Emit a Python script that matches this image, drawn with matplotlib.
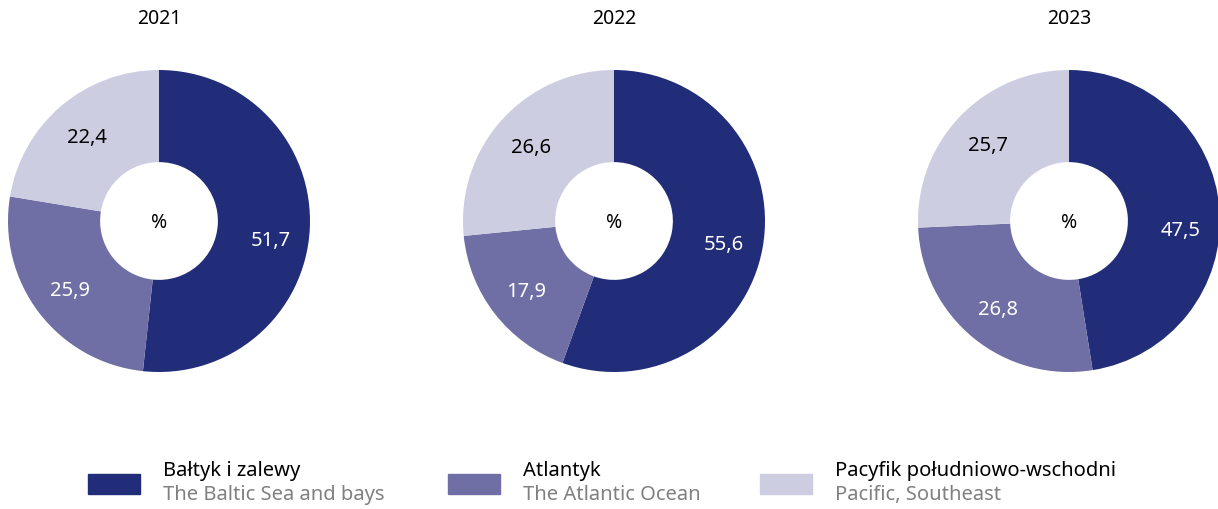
import numpy as np
import matplotlib.pyplot as plt
from matplotlib.patches import Rectangle

plt.rcParams['font.family'] = ['Noto Sans', 'DejaVu Sans']

years = ['2021', '2022', '2023']
baltic = [51.7, 55.6, 47.5]
atlantic = [25.9, 17.9, 26.8]
pacific = [22.4, 26.6, 25.7]
names_pl = ['Bałtyk i zalewy', 'Atlantyk', 'Pacyfik południowo-wschodni']
names_en = ['The Baltic Sea and bays', 'The Atlantic Ocean', 'Pacific, Southeast']
colors = ['#212D78', '#6F6FA6', '#CDCDE2']
label_colors = ['white', 'white', 'black']

W, H = 1218, 509
fig = plt.figure(figsize=(W / 100, H / 100), dpi=100)

centers_x = [159, 614, 1069]
cy = 221
r = 151
# small downward nudge (px) for the big dark slice label, as in the source layout
dark_nudge = [12, 2, 16]

for i, year in enumerate(years):
    cx = centers_x[i]
    ax = fig.add_axes([(cx - r) / W, (H - cy - r) / H, 2 * r / W, 2 * r / H])
    vals = [baltic[i], atlantic[i], pacific[i]]
    wedges, _ = ax.pie(vals, colors=colors, startangle=90, counterclock=False,
                       radius=1, wedgeprops=dict(width=0.61, linewidth=0))
    # value labels
    for k, (w, v, lc) in enumerate(zip(wedges, vals, label_colors)):
        ang = np.deg2rad((w.theta1 + w.theta2) / 2)
        x = 0.74 * np.cos(ang)
        y = 0.74 * np.sin(ang)
        if k == 0:
            y -= dark_nudge[i] / r
        ax.text(x, y, f'{v:.1f}'.replace('.', ','),
                ha='center', va='center_baseline', fontsize=14.5, color=lc)
    ax.text(0, 0, '%', ha='center', va='center_baseline', fontsize=14)
    ax.set_xlim(-1, 1)
    ax.set_ylim(-1, 1)
    ax.set_aspect('equal')
    ax.axis('off')
    fig.text(cx / W, 1 - 19 / H, year, ha='center', va='center', fontsize=14)

# legend
leg_x = [88, 448, 760]
for x, c, pl, en in zip(leg_x, colors, names_pl, names_en):
    fig.patches.append(Rectangle((x / W, 1 - 494 / H), 52 / W, 20 / H,
                                 transform=fig.transFigure, color=c))
    fig.text((x + 75) / W, 1 - 471 / H, pl, ha='left', va='center', fontsize=14.5)
    fig.text((x + 75) / W, 1 - 495 / H, en, ha='left', va='center', fontsize=14.5, color='#808080')

fig.savefig('out.png', dpi=100)
